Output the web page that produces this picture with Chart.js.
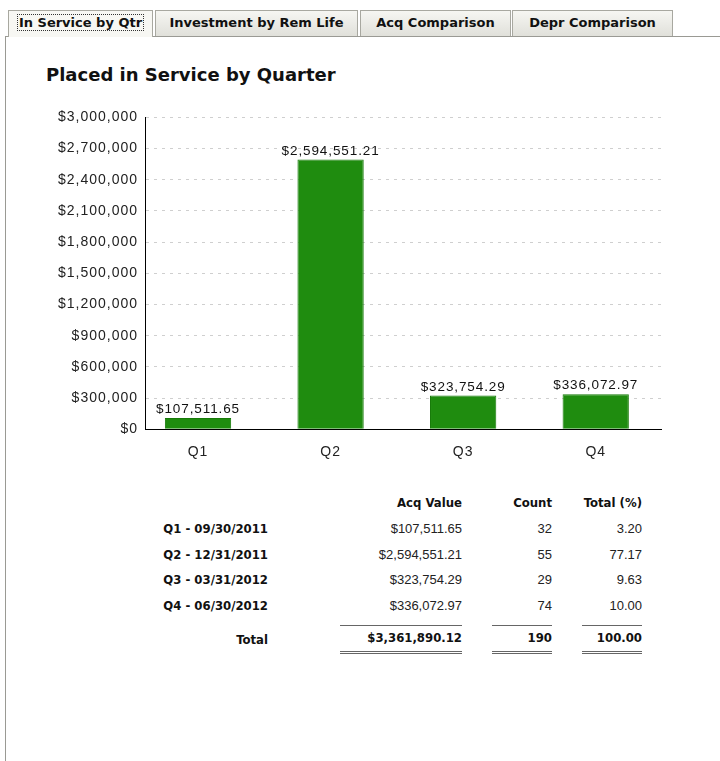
<!DOCTYPE html>
<html>
<head>
<meta charset="utf-8">
<script src="https://cdn.jsdelivr.net/npm/chart.js@4.4.1/dist/chart.umd.min.js"></script>
<style>
  body { margin: 0; background: #fff; font-family: "Liberation Sans", Arial, sans-serif; }
  .page { position: relative; width: 720px; height: 761px; overflow: hidden; }
  .tab {
    position: absolute; top: 10px; height: 26px; box-sizing: border-box;
    font: bold 13px "DejaVu Sans", sans-serif; color: #111; text-align: center; line-height: 24px;
    background: linear-gradient(#f6f6f2, #e0e0da);
    border: 1px solid #a8a8a0; border-bottom: none; white-space: nowrap;
  }
  .tab.active { background: #f7f7f3; height: 27px; }
  .tab.active span { outline: 1px dotted #333; padding: 0 1px; }
  .panel { position: absolute; left: 5px; top: 36px; right: -2px; bottom: -2px; border: 1px solid #9a9a94; }
  h1 { position: absolute; left: 46px; top: 64px; margin: 0; font: bold 18px "DejaVu Sans", sans-serif; color: #111; }
  .chartBox { position: absolute; left: 40px; top: 102px; width: 622px; height: 374px; }
  table { position: absolute; left: 130px; top: 489px; border-collapse: collapse; font-size: 13px; color: #222; }
  td { padding: 0; height: 25.5px; text-align: right; }
  th, td.lab, tr.tot td { font: bold 13px "DejaVu Sans Condensed", "DejaVu Sans", sans-serif; color: #111; }
  th { text-align: right; height: 27px; padding: 0; }
  td.lab { width: 138px; }
  td.c1, th.c1 { width: 194px; }
  td.c2, th.c2 { width: 90px; }
  td.c3, th.c3 { width: 90px; }
  tr.tot td { height: 42px; }
  tr.tot td.c1 span, tr.tot td.c2 span, tr.tot td.c3 span {
    display: inline-block; border-top: 1px solid #666; border-bottom: 3px double #666; padding: 4px 0 6px;
  }
  tr.tot td.c1 span { width: 122px; }
  tr.tot td.c2 span, tr.tot td.c3 span { width: 60px; }
</style>
</head>
<body>
<div class="page">
  <div class="panel"></div>
  <div class="tab active" style="left:8px;width:145px"><span>In Service by Qtr</span></div>
  <div class="tab" style="left:155px;width:203px">Investment by Rem Life</div>
  <div class="tab" style="left:360px;width:151px">Acq Comparison</div>
  <div class="tab" style="left:512px;width:161px">Depr Comparison</div>
  <h1>Placed in Service by Quarter</h1>
  <div class="chartBox"><canvas id="qtrChart"></canvas></div>
  <table id="qtrTable"></table>
</div>
<script>
// chart data
const quarters = ["Q1", "Q2", "Q3", "Q4"];
const acqValues = [107511.65, 2594551.21, 323754.29, 336072.97];

// table data
const rowLabels = ["Q1 - 09/30/2011", "Q2 - 12/31/2011", "Q3 - 03/31/2012", "Q4 - 06/30/2012"];
const counts = [32, 55, 29, 74];
const totalPct = ["3.20", "77.17", "9.63", "10.00"];
const totals = { value: "$3,361,890.12", count: "190", pct: "100.00" };

const money = (v, d) =>
  "$" + v.toLocaleString("en-US", { minimumFractionDigits: d, maximumFractionDigits: d });

// build the summary table
const tbl = document.getElementById("qtrTable");
let html = '<tr><th></th><th class="c1">Acq Value</th><th class="c2">Count</th><th class="c3">Total (%)</th></tr>';
rowLabels.forEach((lab, i) => {
  html += `<tr><td class="lab">${lab}</td><td class="c1">${money(acqValues[i], 2)}</td>` +
    `<td class="c2">${counts[i]}</td><td class="c3">${totalPct[i]}</td></tr>`;
});
html += `<tr class="tot"><td class="lab">Total</td><td class="c1"><span>${totals.value}</span></td>` +
  `<td class="c2"><span>${totals.count}</span></td><td class="c3"><span>${totals.pct}</span></td></tr>`;
tbl.innerHTML = html;

// labels above each bar (and a bit of letter spacing for the axis text)
const barLabels = {
  id: "barLabels",
  beforeDraw(chart) {
    chart.ctx.letterSpacing = "1px";
  },
  afterDatasetsDraw(chart) {
    const ctx = chart.ctx;
    const meta = chart.getDatasetMeta(0);
    ctx.save();
    ctx.font = "13.5px 'Liberation Sans', Arial, sans-serif";
    ctx.letterSpacing = "0.9px";
    ctx.fillStyle = "#111";
    ctx.textAlign = "center";
    ctx.textBaseline = "bottom";
    meta.data.forEach((bar, i) => {
      ctx.fillText(money(acqValues[i], 2), bar.x, bar.y - 2);
    });
    ctx.restore();
  },
};

Chart.defaults.font.family = "'Liberation Sans', Arial, sans-serif";
Chart.defaults.color = "#222";

// quarters sit on a numeric x axis (0..3) so the bands line up like the original
new Chart(document.getElementById("qtrChart"), {
  type: "bar",
  data: {
    datasets: [
      {
        data: acqValues.map((v, i) => ({ x: i, y: v })),
        backgroundColor: "#1f8c0f",
        borderColor: "#167a08",
        borderWidth: 1,
        categoryPercentage: 1.0,
        barPercentage: 0.5,
      },
    ],
  },
  options: {
    responsive: true,
    maintainAspectRatio: false,
    animation: false,
    layout: { padding: { top: 6, right: 0, left: 0, bottom: 0 } },
    plugins: { legend: { display: false }, tooltip: { enabled: false } },
    scales: {
      x: {
        type: "linear",
        min: -0.4,
        max: 3.5,
        offset: false,
        grid: { display: false, drawTicks: false },
        border: { color: "#000", width: 1 },
        afterBuildTicks: (scale) => {
          scale.ticks = quarters.map((q, i) => ({ value: i }));
        },
        ticks: {
          font: { size: 14 },
          color: "#222",
          padding: 15,
          callback: (v) => quarters[v] ?? "",
        },
      },
      y: {
        min: 0,
        max: 3000000,
        afterFit: (scale) => { scale.width = 105; },
        ticks: {
          stepSize: 300000,
          font: { size: 14 },
          color: "#222",
          padding: 7,
          callback: (v) => money(v, 0),
        },
        grid: { color: "#cfcfcf", drawTicks: false, lineWidth: 1 },
        border: { color: "#000", width: 1, dash: [3, 5] },
      },
    },
  },
  plugins: [barLabels],
});
</script>
</body>
</html>
